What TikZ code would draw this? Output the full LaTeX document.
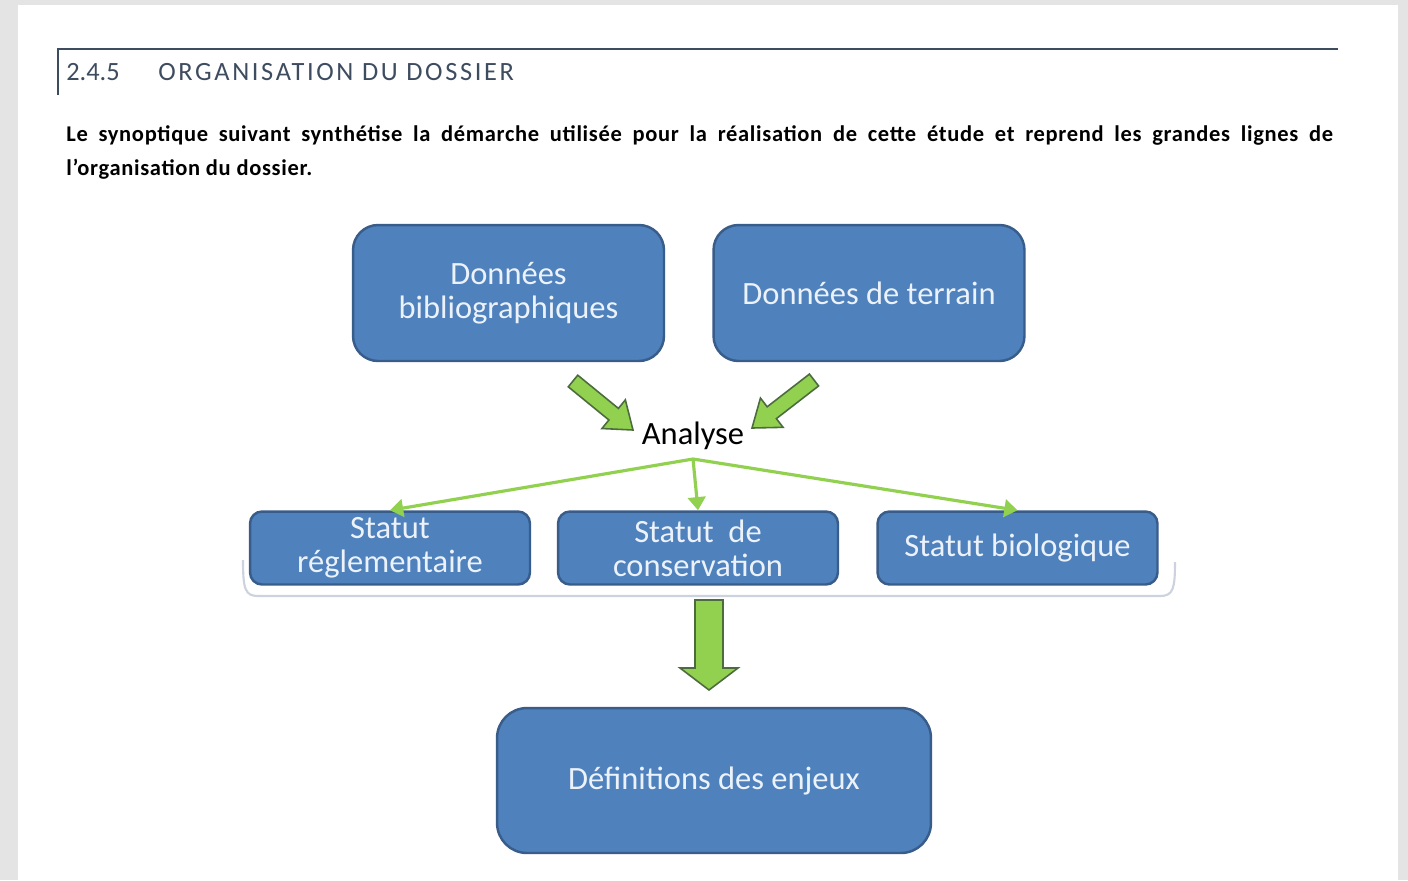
\documentclass[tikz,border=0pt]{standalone}
\usepackage{fontspec}
\setmainfont{Carlito}
\newfontfamily\headfont[LetterSpace=10]{Carlito}
\newfontfamily\introfont[LetterSpace=3]{Carlito}
\usetikzlibrary{calc,arrows.meta}

\definecolor{pagegray}{RGB}{228,228,228}
\definecolor{headtext}{RGB}{62,76,96}
\definecolor{boxblue}{RGB}{79,129,189}
\definecolor{boxedge}{RGB}{56,93,138}
\definecolor{boxtext}{RGB}{236,242,250}
\definecolor{arrowgreen}{RGB}{146,208,80}
\definecolor{arrowedge}{RGB}{76,108,62}
\definecolor{bracegray}{RGB}{204,211,222}

\tikzset{
  box/.style={draw=boxedge, line width=1.4pt, fill=boxblue, rounded corners=#1,
    text=boxtext, align=center, font=\fontsize{18.5}{19.5}\selectfont},
  fork/.style={draw=arrowgreen, line width=1.8pt, -{Triangle[length=7.5pt,width=10pt]}},
  % block arrow: shaft half width, head half width, head length
  blockarrow/.style n args={3}{fill=arrowgreen, draw=arrowedge, line width=0.9pt,
    line join=miter, to path={
      ($(\tikztotarget)!#3!(\tikztostart)$) coordinate (ba-h)
      ($(\tikztostart)!#1!90:(\tikztotarget)$)
      -- ($(ba-h)!#1!90:(\tikztotarget)$)
      -- ($(ba-h)!#2!90:(\tikztotarget)$)
      -- (\tikztotarget)
      -- ($(ba-h)!#2!-90:(\tikztotarget)$)
      -- ($(ba-h)!#1!-90:(\tikztotarget)$)
      -- ($(\tikztostart)!#1!-90:(\tikztotarget)$) -- cycle}},
  brace/.style={draw=bracegray, line width=1.2pt}
}

\begin{document}
\begin{tikzpicture}[x=0.02cm, y=-0.02cm]
  \useasboundingbox (0,0) rectangle (1408,880);
  % Page
  \fill[pagegray] (0,0) rectangle (1408,880);
  \fill[white] (18,5) rectangle (1398,880);
  % Heading
  \draw[headtext, line width=0.7pt] (58,95) |- (1338,49);
  \node[anchor=base west, inner sep=0, text=headtext, font=\fontsize{15}{18}\selectfont] (num) at (66,80) {2.4.5};
  \node[anchor=base west, inner sep=0, text=headtext, font=\headfont\fontsize{15}{18}\selectfont] (title) at (158,80) {ORGANISATION DU DOSSIER};
  \node[anchor=base west, inner sep=0, text width=25.34cm, align=justify, font=\introfont\bfseries\fontsize{12.8}{19.9}\selectfont] (intro) at (66,141)
    {Le synoptique suivant synthétise la démarche utilisée pour la réalisation de cette étude et reprend les grandes lignes de\linebreak l’organisation du dossier.};
  % Nodes
  \node[box=0.5cm, minimum width=6.22cm, minimum height=2.72cm] (bib) at (508.5,293) {Données\\bibliographiques};
  \node[box=0.5cm, minimum width=6.22cm, minimum height=2.72cm] (ter) at (869,293) {Données de terrain};
  \node[font=\fontsize{18.5}{19.5}\selectfont] (ana) at (693,436) {Analyse};
  \coordinate (fork) at (693,459);
  \foreach \n/\x/\t in {reg/390/{Statut\\réglementaire}, con/698/{Statut~ de\\conservation}, bio/1017.5/{Statut biologique}} {
    \node[box=0.24cm, minimum width=5.6cm, minimum height=1.46cm] (\n) at (\x,548) {\t};
  }
  \node[box=0.6cm, minimum width=8.68cm, minimum height=2.9cm] (enj) at (714,780.5) {Définitions des enjeux};
  % Brace under the three statuts
  \draw[brace] (243,560) .. controls (243,589) and (245,596) .. (258,596) -- (1160,596)
    .. controls (1173,596) and (1175,589) .. (1175,562);
  % Edges
  \coordinate (bibout) at (573,381);
  \coordinate (bibin) at (633,430);
  \coordinate (terout) at (814,380);
  \coordinate (terin) at (752,428);
  \coordinate (grpout) at (709,600);
  \coordinate (grpin) at (709,690);
  \draw[blockarrow={0.15cm}{0.37cm}{0.5cm}] (bibout) to (bibin);
  \draw[blockarrow={0.15cm}{0.37cm}{0.5cm}] (terout) to (terin);
  \draw[blockarrow={0.28cm}{0.58cm}{0.44cm}] (grpout) to (grpin);
  \foreach \t in {reg, con, bio} {
    \draw[fork] (fork) -- (\t.north);
  }
\end{tikzpicture}
\end{document}
